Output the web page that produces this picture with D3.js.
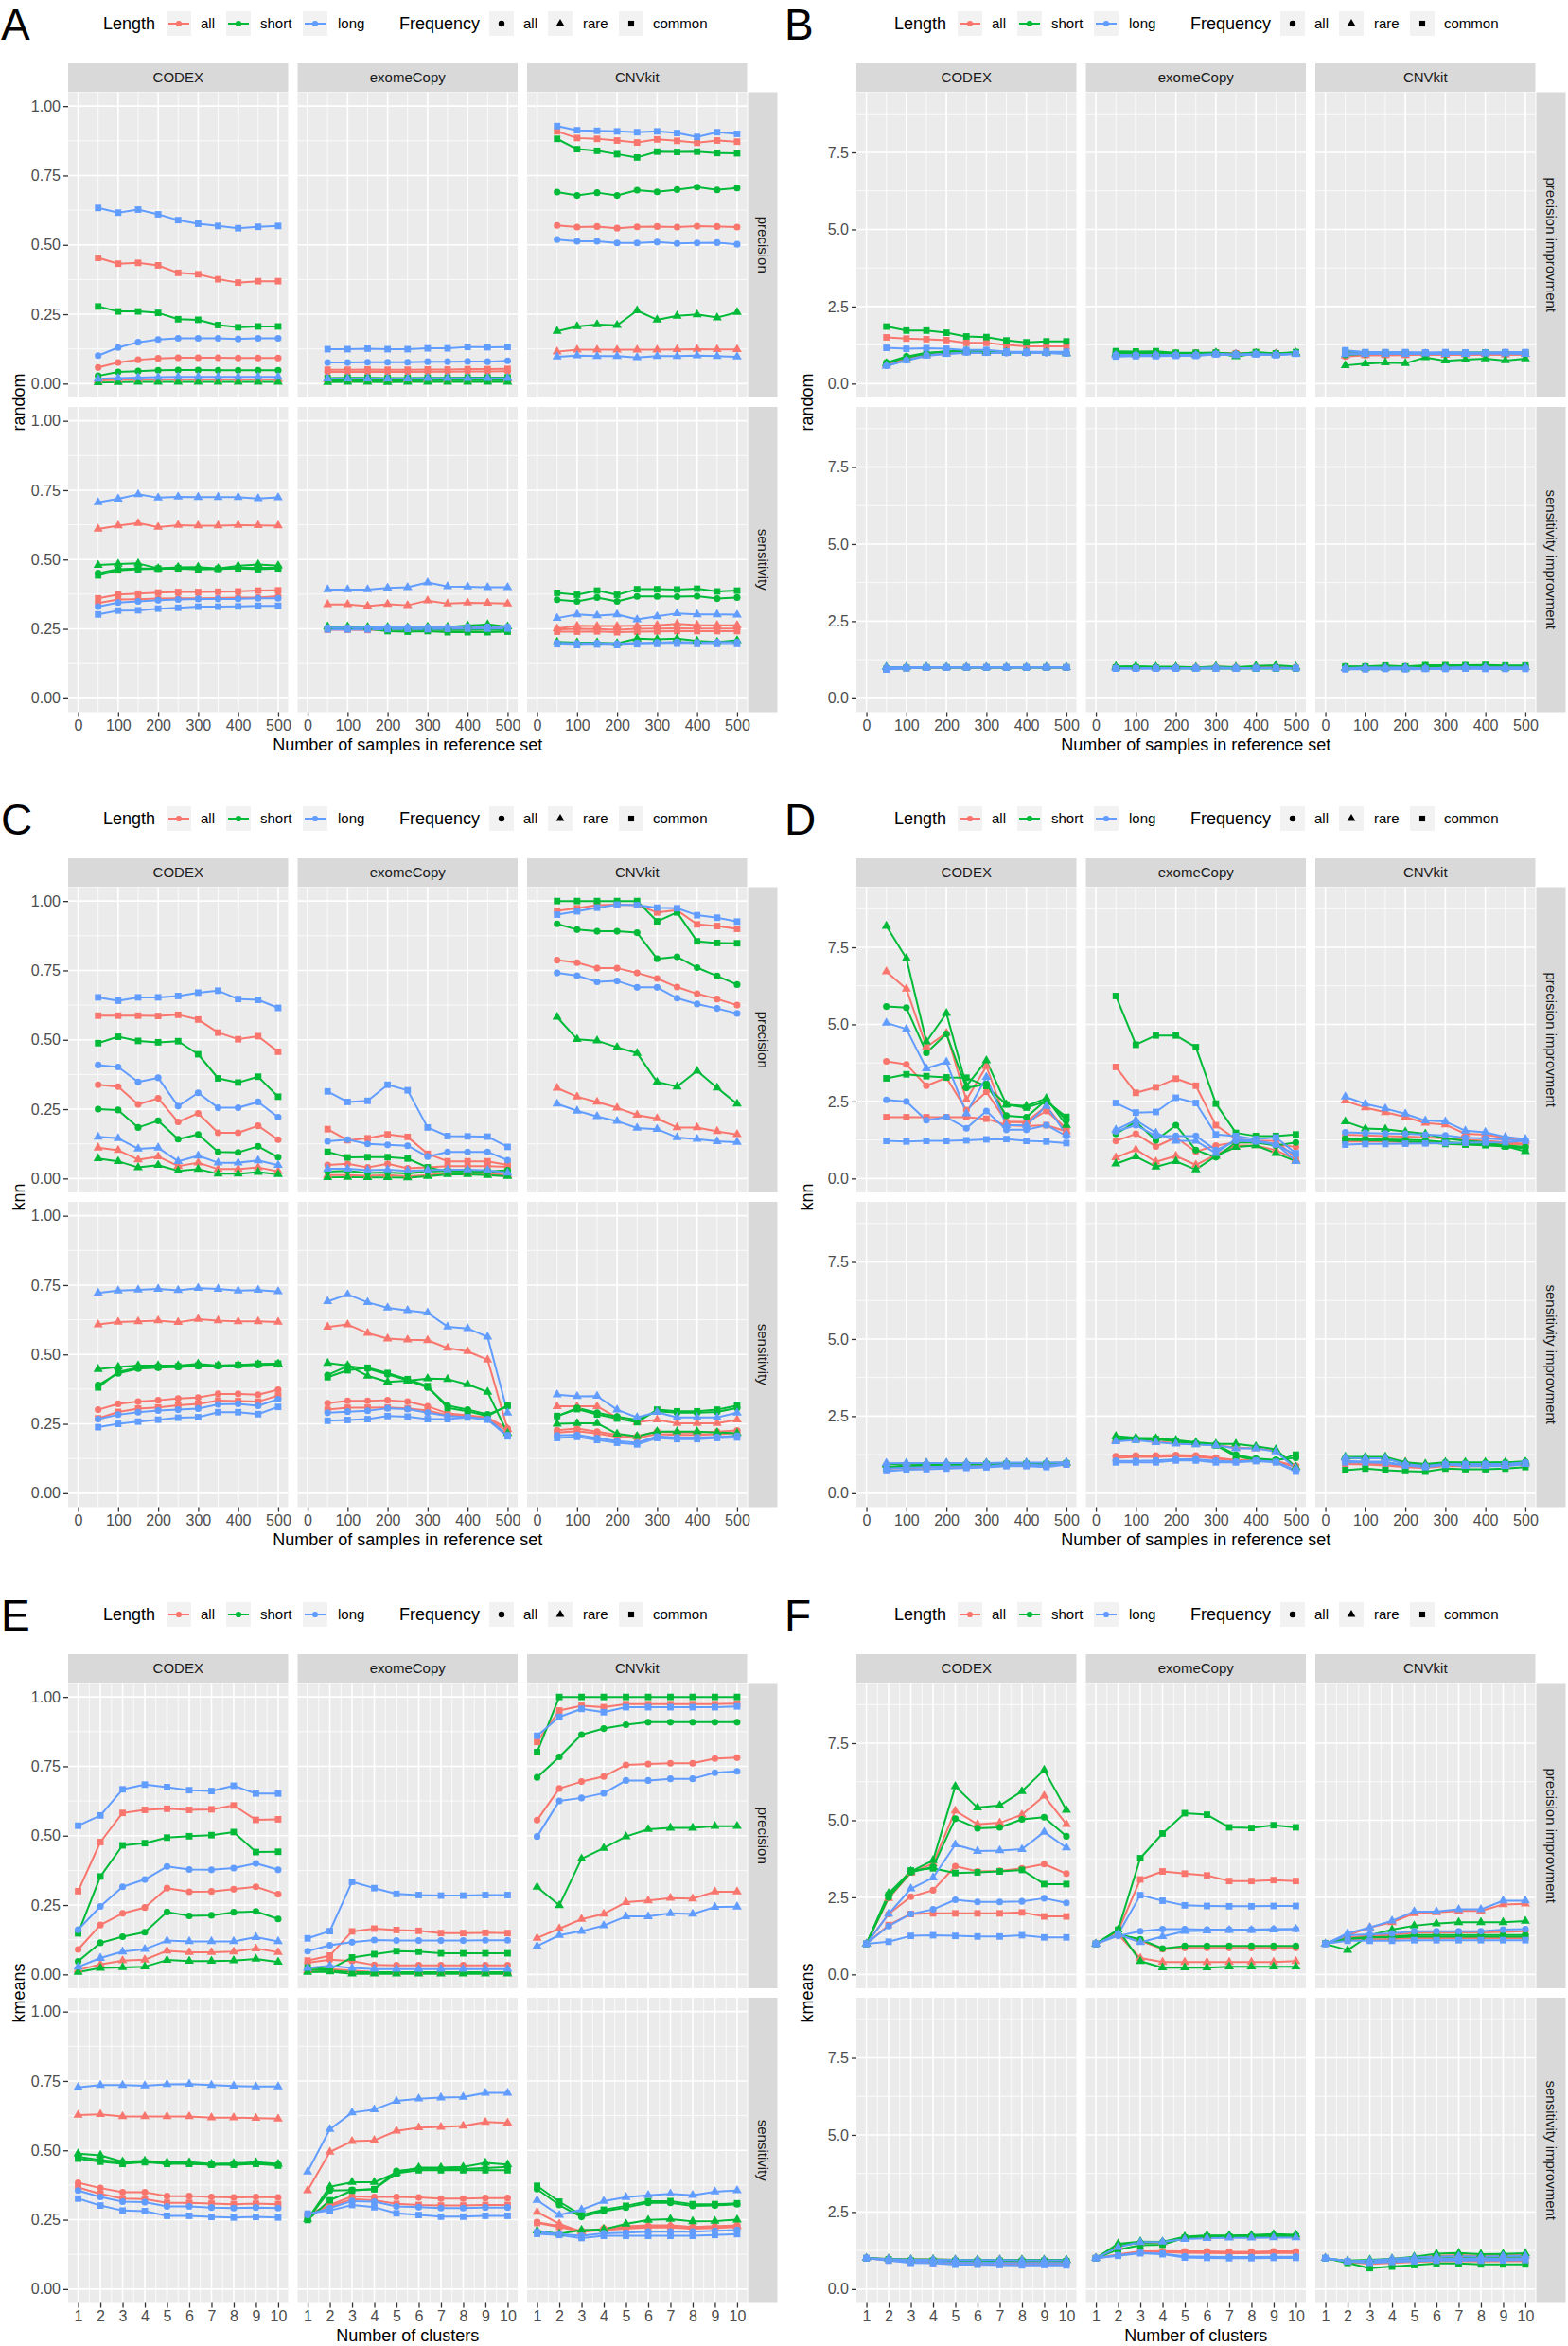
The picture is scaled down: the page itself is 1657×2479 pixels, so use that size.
<!DOCTYPE html>
<html><head><meta charset="utf-8">
<script src="https://cdn.jsdelivr.net/npm/d3@7"></script>
<style>body{margin:0;background:#fff}svg{display:block}</style>
</head><body><svg id="c" width="1657" height="2479"></svg>
<script>
// ---------- categories / ticks ----------
const methods = ["CODEX","exomeCopy","CNVkit"];
const lengthLevels = ["all","short","long"];
const freqLevels = ["all","rare","common"];
const xSamples = [50,100,150,200,250,300,350,400,450,500];
const xClusters = [1,2,3,4,5,6,7,8,9,10];
const xTicksSamples = [0,100,200,300,400,500];
const xTicksClusters = [1,2,3,4,5,6,7,8,9,10];
const yTicksFraction = [0,0.25,0.5,0.75,1];
const yLabelsFraction = ["0.00","0.25","0.50","0.75","1.00"];
const yTicksImprovement = [0,2.5,5,7.5];
const yLabelsImprovement = ["0.0","2.5","5.0","7.5"];
const rowsFraction = ["precision","sensitivity"];
const rowsImprovement = ["precision improvment","sensitivity improvment"];
const xTitleSamples = "Number of samples in reference set";
const xTitleClusters = "Number of clusters";
// series order in every facet array:
// Length all: freq all, rare, common | Length short: all, rare, common | Length long: all, rare, common

// ---------- A : random, fraction ----------
const A_precision_CODEX = [
[0.058,0.076,0.086,0.091,0.093,0.093,0.093,0.092,0.092,0.092],
[0.011,0.013,0.014,0.015,0.015,0.015,0.015,0.015,0.015,0.015],
[0.453,0.432,0.435,0.426,0.399,0.394,0.376,0.364,0.369,0.369],
[0.028,0.042,0.045,0.048,0.049,0.049,0.048,0.048,0.048,0.048],
[0.004,0.005,0.006,0.006,0.006,0.006,0.006,0.006,0.006,0.006],
[0.278,0.260,0.260,0.255,0.232,0.230,0.211,0.203,0.206,0.206],
[0.101,0.130,0.149,0.159,0.163,0.163,0.163,0.161,0.163,0.163],
[0.017,0.020,0.022,0.023,0.024,0.024,0.024,0.024,0.024,0.024],
[0.633,0.616,0.627,0.610,0.589,0.576,0.568,0.560,0.565,0.568]];
const A_precision_exomeCopy = [
[0.042,0.042,0.042,0.042,0.042,0.043,0.043,0.044,0.044,0.045],
[0.015,0.015,0.015,0.015,0.015,0.015,0.015,0.016,0.016,0.016],
[0.050,0.050,0.051,0.050,0.050,0.051,0.051,0.052,0.052,0.053],
[0.011,0.011,0.011,0.011,0.011,0.012,0.012,0.012,0.012,0.012],
[0.005,0.006,0.006,0.005,0.006,0.006,0.006,0.006,0.006,0.006],
[0.020,0.021,0.021,0.020,0.020,0.021,0.021,0.022,0.022,0.022],
[0.076,0.076,0.077,0.077,0.077,0.079,0.079,0.080,0.079,0.082],
[0.018,0.018,0.018,0.018,0.018,0.019,0.019,0.019,0.019,0.019],
[0.124,0.124,0.126,0.124,0.124,0.127,0.127,0.132,0.131,0.132]];
const A_precision_CNVkit = [
[0.570,0.564,0.566,0.560,0.565,0.566,0.564,0.567,0.566,0.564],
[0.115,0.122,0.122,0.122,0.122,0.122,0.123,0.124,0.123,0.123],
[0.909,0.885,0.882,0.876,0.869,0.880,0.875,0.868,0.876,0.872],
[0.690,0.678,0.688,0.678,0.697,0.691,0.699,0.708,0.698,0.705],
[0.189,0.206,0.213,0.210,0.263,0.230,0.244,0.249,0.238,0.257],
[0.882,0.845,0.839,0.827,0.815,0.836,0.835,0.836,0.831,0.830],
[0.519,0.513,0.513,0.507,0.507,0.510,0.505,0.507,0.508,0.502],
[0.097,0.101,0.099,0.099,0.094,0.099,0.099,0.101,0.099,0.097],
[0.928,0.913,0.911,0.909,0.906,0.909,0.903,0.889,0.906,0.900]];
const A_sensitivity_CODEX = [
[0.343,0.356,0.357,0.359,0.360,0.360,0.361,0.363,0.363,0.368],
[0.610,0.622,0.631,0.617,0.624,0.622,0.622,0.624,0.623,0.622],
[0.360,0.374,0.377,0.381,0.383,0.383,0.384,0.385,0.388,0.389],
[0.451,0.465,0.468,0.468,0.470,0.467,0.468,0.470,0.470,0.470],
[0.480,0.484,0.486,0.468,0.472,0.473,0.468,0.477,0.482,0.478],
[0.443,0.461,0.465,0.467,0.468,0.464,0.466,0.468,0.465,0.468],
[0.330,0.345,0.349,0.353,0.356,0.358,0.358,0.358,0.360,0.360],
[0.706,0.719,0.735,0.723,0.726,0.725,0.725,0.725,0.720,0.724],
[0.302,0.316,0.317,0.323,0.326,0.330,0.330,0.331,0.333,0.333]];
const A_sensitivity_exomeCopy = [
[0.250,0.250,0.250,0.251,0.252,0.251,0.251,0.252,0.252,0.252],
[0.338,0.338,0.332,0.339,0.335,0.352,0.341,0.344,0.343,0.341],
[0.247,0.247,0.246,0.247,0.248,0.247,0.247,0.248,0.248,0.249],
[0.252,0.252,0.252,0.248,0.247,0.248,0.246,0.246,0.247,0.245],
[0.258,0.258,0.256,0.256,0.255,0.257,0.257,0.262,0.266,0.258],
[0.250,0.251,0.250,0.242,0.240,0.242,0.238,0.238,0.238,0.240],
[0.254,0.254,0.254,0.256,0.256,0.256,0.256,0.258,0.258,0.258],
[0.392,0.392,0.392,0.398,0.400,0.417,0.403,0.402,0.400,0.400],
[0.248,0.248,0.248,0.249,0.250,0.249,0.250,0.251,0.251,0.251]];
const A_sensitivity_CNVkit = [
[0.248,0.250,0.249,0.247,0.250,0.251,0.252,0.251,0.251,0.251],
[0.251,0.261,0.260,0.260,0.261,0.263,0.268,0.264,0.263,0.263],
[0.240,0.240,0.241,0.238,0.240,0.241,0.242,0.242,0.242,0.242],
[0.355,0.349,0.363,0.349,0.367,0.367,0.366,0.368,0.359,0.363],
[0.203,0.201,0.201,0.198,0.215,0.213,0.215,0.207,0.203,0.209],
[0.380,0.373,0.388,0.373,0.393,0.393,0.392,0.395,0.385,0.388],
[0.200,0.198,0.199,0.197,0.200,0.201,0.203,0.201,0.202,0.202],
[0.289,0.302,0.298,0.302,0.284,0.295,0.306,0.302,0.302,0.301],
[0.195,0.192,0.194,0.192,0.195,0.196,0.197,0.196,0.196,0.196]];

// ---------- B : random, improvement ----------
const B_precision_CODEX = [
[0.62,0.80,0.95,1.00,1.02,1.01,1.00,1.00,1.00,0.99],
[0.60,0.78,0.93,0.99,1.02,1.01,1.00,1.00,1.00,0.99],
[1.50,1.46,1.44,1.41,1.32,1.32,1.25,1.21,1.21,1.21],
[0.68,0.88,1.00,1.04,1.05,1.03,1.02,1.01,1.00,0.99],
[0.66,0.85,0.98,1.05,1.06,1.04,1.02,1.02,1.01,0.98],
[1.85,1.72,1.72,1.65,1.53,1.51,1.40,1.34,1.37,1.37],
[0.58,0.76,0.92,0.97,1.01,1.00,0.99,0.99,0.99,0.98],
[0.57,0.75,0.90,0.96,1.00,0.99,0.99,0.99,0.99,0.97],
[1.16,1.13,1.15,1.13,1.09,1.09,1.04,1.03,1.03,1.03]];
const B_precision_exomeCopy = [
[0.97,0.98,0.98,0.97,0.98,0.99,0.98,0.99,0.98,0.99],
[0.95,0.96,0.96,0.95,0.96,0.98,0.96,0.98,0.97,0.98],
[1.00,1.00,1.00,0.98,0.99,1.00,0.98,1.00,0.98,1.00],
[1.00,1.00,1.00,0.98,0.99,1.00,0.97,1.00,0.97,1.00],
[0.98,0.98,0.97,0.96,0.94,1.00,0.88,0.98,0.95,1.00],
[1.05,1.04,1.05,1.00,1.00,1.00,0.95,1.02,0.98,1.02],
[0.93,0.93,0.93,0.93,0.93,0.96,0.95,0.96,0.94,0.97],
[0.92,0.92,0.92,0.92,0.92,0.95,0.94,0.95,0.93,0.96],
[0.88,0.89,0.89,0.90,0.90,0.95,0.93,0.95,0.92,0.97]];
const B_precision_CNVkit = [
[0.88,0.92,0.92,0.93,0.95,0.94,0.94,0.95,0.94,0.94],
[0.90,0.92,0.92,0.92,0.95,0.93,0.94,0.95,0.94,0.95],
[1.02,1.00,1.00,1.00,0.99,1.00,1.00,0.99,1.00,1.00],
[0.93,0.96,0.97,0.97,0.99,0.98,0.99,1.00,0.99,1.00],
[0.59,0.65,0.68,0.66,0.85,0.74,0.78,0.81,0.75,0.81],
[1.05,1.00,1.00,1.00,0.98,1.01,1.01,1.01,1.00,1.00],
[0.98,0.99,0.99,0.99,1.00,0.99,0.99,1.00,1.00,0.99],
[0.95,0.96,0.96,0.96,0.97,0.96,0.96,0.97,0.97,0.96],
[1.08,1.02,1.02,1.02,1.01,1.02,1.01,1.00,1.02,1.02]];
const B_sensitivity_CODEX = [
[0.97,0.99,1.00,1.00,1.00,1.00,1.00,1.00,1.00,1.00],
[1.00,1.00,1.00,1.00,1.00,1.00,1.00,1.00,1.00,1.00],
[0.94,0.98,0.99,0.99,1.00,1.00,1.00,1.00,1.00,1.00],
[0.96,0.99,1.00,1.00,1.00,1.00,1.00,1.00,1.00,1.00],
[1.01,1.01,1.01,1.00,1.00,1.00,1.00,1.00,1.01,1.00],
[0.95,0.98,1.00,1.00,1.00,1.00,1.00,1.00,1.00,1.00],
[0.96,0.99,1.00,1.00,1.00,1.00,1.00,1.00,1.00,1.00],
[1.00,1.01,1.01,1.00,1.00,1.00,1.00,1.00,1.00,1.00],
[0.93,0.97,0.99,0.99,1.00,1.00,1.00,1.00,1.00,1.00]];
const B_sensitivity_exomeCopy = [
[0.99,0.99,0.98,0.99,0.99,0.99,0.99,0.99,0.99,0.99],
[1.00,1.00,0.99,1.00,0.99,1.02,1.00,1.01,1.01,1.00],
[0.98,0.98,0.98,0.98,0.98,0.98,0.98,0.98,0.98,0.98],
[1.00,1.00,1.00,0.99,0.98,0.99,0.98,0.98,0.99,0.98],
[1.03,1.04,1.02,1.02,1.00,1.03,1.01,1.05,1.07,1.02],
[0.99,1.00,0.99,0.97,0.96,0.97,0.96,0.96,0.96,0.96],
[0.97,0.97,0.97,0.98,0.98,0.98,0.98,0.98,0.99,0.98],
[0.97,0.97,0.97,0.98,0.98,1.00,0.98,0.98,0.98,0.98],
[0.96,0.96,0.96,0.96,0.96,0.96,0.96,0.97,0.97,0.97]];
const B_sensitivity_CNVkit = [
[0.98,0.99,0.98,0.98,0.99,1.00,1.00,1.00,1.00,1.00],
[0.98,1.00,1.00,1.00,1.00,1.00,1.02,1.01,1.00,1.00],
[0.96,0.97,0.97,0.96,0.97,0.97,0.97,0.98,0.98,0.98],
[1.02,1.02,1.05,1.02,1.05,1.05,1.05,1.06,1.04,1.05],
[0.98,0.97,0.98,0.96,1.02,1.01,1.02,1.00,0.98,1.00],
[1.03,1.03,1.06,1.03,1.07,1.07,1.07,1.08,1.06,1.06],
[0.95,0.95,0.96,0.95,0.96,0.96,0.97,0.96,0.97,0.97],
[0.97,1.00,0.99,1.00,0.96,0.99,1.01,1.00,1.00,1.00],
[0.94,0.94,0.95,0.94,0.95,0.95,0.96,0.95,0.95,0.95]];

// ---------- C : knn, fraction ----------
const C_precision_CODEX = [
[0.338,0.331,0.267,0.289,0.204,0.235,0.165,0.165,0.190,0.140],
[0.111,0.102,0.068,0.079,0.045,0.057,0.034,0.034,0.040,0.026],
[0.587,0.587,0.587,0.586,0.590,0.573,0.526,0.502,0.513,0.457],
[0.250,0.247,0.184,0.208,0.142,0.159,0.096,0.094,0.116,0.077],
[0.072,0.062,0.040,0.048,0.028,0.034,0.017,0.017,0.023,0.015],
[0.488,0.511,0.496,0.491,0.495,0.448,0.361,0.346,0.367,0.295],
[0.409,0.402,0.348,0.363,0.261,0.309,0.255,0.255,0.276,0.221],
[0.150,0.145,0.107,0.111,0.062,0.082,0.057,0.057,0.065,0.048],
[0.653,0.641,0.653,0.653,0.658,0.670,0.677,0.647,0.644,0.615]];
const C_precision_exomeCopy = [
[0.049,0.053,0.040,0.053,0.037,0.040,0.045,0.045,0.045,0.042],
[0.012,0.012,0.010,0.012,0.008,0.012,0.020,0.020,0.018,0.012],
[0.178,0.138,0.145,0.159,0.150,0.089,0.062,0.062,0.062,0.049],
[0.025,0.028,0.020,0.022,0.018,0.025,0.028,0.028,0.025,0.030],
[0.004,0.005,0.004,0.004,0.003,0.008,0.015,0.015,0.012,0.008],
[0.096,0.076,0.077,0.077,0.072,0.040,0.026,0.026,0.025,0.020],
[0.134,0.140,0.125,0.121,0.118,0.079,0.096,0.096,0.096,0.066],
[0.035,0.035,0.030,0.032,0.028,0.030,0.032,0.032,0.030,0.020],
[0.314,0.276,0.280,0.338,0.318,0.184,0.153,0.152,0.151,0.114]];
const C_precision_CNVkit = [
[0.787,0.778,0.758,0.758,0.741,0.721,0.690,0.666,0.647,0.625],
[0.326,0.295,0.276,0.255,0.229,0.216,0.184,0.184,0.170,0.159],
[0.965,0.974,0.985,0.987,0.985,0.959,0.967,0.916,0.910,0.900],
[0.918,0.897,0.891,0.891,0.886,0.792,0.799,0.760,0.730,0.699],
[0.582,0.502,0.497,0.473,0.452,0.348,0.331,0.388,0.327,0.269],
[1.000,1.000,1.000,1.000,1.000,0.927,0.959,0.855,0.849,0.848],
[0.741,0.731,0.709,0.712,0.689,0.689,0.650,0.629,0.613,0.595],
[0.269,0.244,0.224,0.207,0.182,0.178,0.148,0.142,0.134,0.131],
[0.951,0.963,0.976,0.987,0.985,0.976,0.974,0.949,0.940,0.926]];
const C_sensitivity_CODEX = [
[0.301,0.322,0.330,0.335,0.341,0.345,0.358,0.358,0.355,0.373],
[0.608,0.617,0.619,0.622,0.616,0.627,0.622,0.619,0.619,0.617],
[0.270,0.293,0.305,0.309,0.317,0.322,0.334,0.332,0.330,0.352],
[0.390,0.432,0.449,0.452,0.455,0.458,0.458,0.460,0.462,0.464],
[0.447,0.455,0.460,0.460,0.460,0.466,0.460,0.462,0.464,0.466],
[0.381,0.437,0.452,0.455,0.457,0.460,0.460,0.462,0.466,0.467],
[0.267,0.283,0.292,0.298,0.301,0.305,0.320,0.322,0.315,0.339],
[0.722,0.730,0.733,0.736,0.731,0.739,0.736,0.730,0.732,0.727],
[0.238,0.250,0.258,0.265,0.272,0.274,0.292,0.292,0.285,0.311]];
const C_sensitivity_exomeCopy = [
[0.324,0.333,0.333,0.335,0.330,0.313,0.288,0.281,0.273,0.233],
[0.599,0.608,0.577,0.557,0.553,0.551,0.523,0.511,0.481,0.231],
[0.301,0.308,0.308,0.309,0.306,0.298,0.281,0.278,0.269,0.222],
[0.426,0.458,0.449,0.428,0.407,0.381,0.316,0.301,0.284,0.313],
[0.469,0.460,0.423,0.401,0.405,0.413,0.411,0.392,0.365,0.216],
[0.418,0.443,0.452,0.433,0.411,0.386,0.307,0.295,0.278,0.316],
[0.290,0.294,0.297,0.306,0.303,0.290,0.278,0.274,0.267,0.210],
[0.691,0.716,0.688,0.668,0.659,0.650,0.600,0.594,0.563,0.290],
[0.261,0.264,0.267,0.278,0.276,0.267,0.267,0.273,0.265,0.205]];
const C_sensitivity_CNVkit = [
[0.227,0.233,0.222,0.210,0.205,0.222,0.219,0.219,0.222,0.226],
[0.313,0.313,0.313,0.273,0.256,0.265,0.252,0.252,0.252,0.265],
[0.219,0.224,0.215,0.203,0.199,0.213,0.210,0.210,0.213,0.217],
[0.278,0.307,0.290,0.276,0.265,0.295,0.290,0.290,0.293,0.307],
[0.250,0.252,0.252,0.214,0.205,0.222,0.222,0.222,0.219,0.216],
[0.278,0.303,0.284,0.269,0.256,0.301,0.295,0.295,0.301,0.316],
[0.208,0.210,0.199,0.188,0.182,0.205,0.201,0.201,0.203,0.207],
[0.355,0.349,0.350,0.301,0.273,0.292,0.273,0.273,0.273,0.290],
[0.199,0.203,0.192,0.182,0.176,0.199,0.195,0.195,0.199,0.201]];

// ---------- D : knn, improvement ----------
const D_precision_CODEX = [
[3.80,3.70,3.01,3.27,2.22,2.81,1.84,1.82,2.19,1.63],
[6.71,6.15,4.27,4.72,2.55,3.64,1.84,1.84,2.35,1.53],
[1.99,1.99,1.99,1.99,1.99,1.94,1.73,1.70,1.73,1.53],
[5.58,5.54,4.08,4.69,2.94,3.06,2.04,1.99,2.55,1.89],
[8.19,7.14,4.44,5.36,3.00,3.83,2.40,2.35,2.60,1.73],
[3.25,3.38,3.32,3.28,3.27,3.00,2.40,2.30,2.50,2.00],
[2.55,2.50,1.89,1.99,1.63,2.19,1.58,1.58,1.73,1.38],
[5.05,4.85,3.57,3.78,2.11,3.29,1.73,1.73,2.35,1.43],
[1.22,1.20,1.22,1.22,1.24,1.27,1.28,1.22,1.20,1.15]];
const D_precision_exomeCopy = [
[1.22,1.45,1.04,1.33,0.87,1.07,1.17,1.17,1.12,1.02],
[0.68,0.94,0.54,0.73,0.44,0.77,1.07,1.07,0.92,0.61],
[3.62,2.78,2.96,3.24,3.01,1.73,1.28,1.22,1.22,0.66],
[1.45,1.84,1.24,1.73,0.92,0.69,1.17,1.17,1.07,1.17],
[0.48,0.71,0.38,0.56,0.29,0.73,1.02,1.07,0.82,0.56],
[5.92,4.34,4.64,4.64,4.26,2.43,1.48,1.38,1.38,1.43],
[1.53,1.73,1.38,1.38,1.38,0.92,1.22,1.20,1.10,0.77],
[1.58,1.89,1.48,1.22,1.22,0.82,1.28,1.22,1.12,0.56],
[2.45,2.14,2.16,2.62,2.45,1.43,1.38,1.28,1.33,0.82]];
const D_precision_CNVkit = [
[1.42,1.40,1.38,1.36,1.34,1.30,1.25,1.22,1.18,1.12],
[2.52,2.30,2.15,2.00,1.80,1.75,1.45,1.42,1.32,1.22],
[1.20,1.20,1.20,1.18,1.18,1.15,1.14,1.13,1.12,1.10],
[1.30,1.28,1.27,1.25,1.24,1.18,1.15,1.12,1.08,1.02],
[1.85,1.62,1.60,1.52,1.45,1.30,1.22,1.18,1.05,0.88],
[1.25,1.24,1.23,1.20,1.18,1.12,1.10,1.08,1.04,0.98],
[1.50,1.48,1.46,1.45,1.42,1.40,1.32,1.30,1.26,1.22],
[2.65,2.42,2.27,2.10,1.88,1.85,1.55,1.50,1.35,1.28],
[1.10,1.12,1.12,1.13,1.14,1.15,1.16,1.17,1.18,1.22]];
const D_sensitivity_CODEX = [
[0.85,0.87,0.88,0.88,0.89,0.90,0.93,0.93,0.92,0.96],
[0.95,0.96,0.97,0.97,0.97,0.97,0.98,0.98,0.98,0.99],
[0.80,0.82,0.84,0.85,0.86,0.88,0.91,0.91,0.90,0.95],
[0.85,0.90,0.92,0.93,0.94,0.95,0.96,0.96,0.96,0.98],
[0.93,0.96,0.97,0.97,0.97,0.98,0.98,0.98,0.98,0.99],
[0.80,0.86,0.90,0.91,0.92,0.94,0.95,0.95,0.95,0.97],
[0.80,0.83,0.85,0.86,0.87,0.88,0.92,0.92,0.90,0.96],
[0.97,0.98,0.98,0.98,0.98,0.98,0.99,0.99,0.99,1.00],
[0.72,0.76,0.78,0.80,0.82,0.84,0.88,0.88,0.85,0.93]];
const D_sensitivity_exomeCopy = [
[1.20,1.22,1.22,1.24,1.22,1.15,1.08,1.08,1.05,0.88],
[1.72,1.75,1.68,1.62,1.60,1.56,1.48,1.45,1.38,0.85],
[1.15,1.18,1.18,1.20,1.18,1.12,1.05,1.06,1.02,0.85],
[1.75,1.76,1.75,1.70,1.62,1.58,1.25,1.12,1.08,1.15],
[1.85,1.80,1.78,1.72,1.65,1.60,1.60,1.52,1.42,0.85],
[1.70,1.74,1.76,1.68,1.60,1.55,1.20,1.08,1.05,1.25],
[1.05,1.05,1.06,1.10,1.10,1.05,1.02,1.06,1.02,0.75],
[1.68,1.72,1.65,1.60,1.58,1.55,1.45,1.45,1.35,0.80],
[1.00,1.00,1.00,1.06,1.06,1.00,1.00,1.04,1.00,0.70]];
const D_sensitivity_CNVkit = [
[1.00,0.98,0.95,0.88,0.85,0.92,0.92,0.92,0.93,0.95],
[1.15,1.15,1.15,1.00,0.93,0.98,0.92,0.92,0.92,0.98],
[0.95,0.93,0.90,0.85,0.82,0.88,0.88,0.88,0.90,0.92],
[1.12,1.15,1.12,0.97,0.88,1.00,0.98,0.98,1.00,1.02],
[1.18,1.18,1.18,1.00,0.95,1.00,1.00,1.00,1.00,1.02],
[0.75,0.80,0.75,0.72,0.70,0.80,0.78,0.78,0.80,0.85],
[1.05,1.02,1.02,0.92,0.87,0.95,0.95,0.95,0.95,1.00],
[1.15,1.13,1.13,0.95,0.88,0.94,0.88,0.88,0.88,0.94],
[1.00,1.00,0.98,0.90,0.85,0.92,0.92,0.92,0.93,0.96]];

// ---------- E : kmeans, fraction ----------
const E_precision_CODEX = [
[0.090,0.178,0.220,0.241,0.311,0.298,0.299,0.307,0.316,0.289],
[0.016,0.036,0.050,0.053,0.085,0.080,0.080,0.082,0.093,0.080],
[0.300,0.477,0.582,0.593,0.597,0.593,0.595,0.609,0.557,0.559],
[0.047,0.114,0.136,0.152,0.225,0.211,0.213,0.224,0.227,0.200],
[0.008,0.023,0.025,0.028,0.052,0.048,0.048,0.050,0.056,0.045],
[0.148,0.353,0.465,0.473,0.493,0.498,0.502,0.513,0.441,0.442],
[0.161,0.245,0.316,0.342,0.389,0.378,0.377,0.383,0.400,0.377],
[0.027,0.059,0.082,0.091,0.122,0.119,0.119,0.119,0.134,0.119],
[0.536,0.573,0.667,0.684,0.675,0.664,0.661,0.680,0.652,0.652]];
const E_precision_exomeCopy = [
[0.042,0.053,0.048,0.034,0.033,0.033,0.033,0.033,0.033,0.033],
[0.014,0.019,0.014,0.008,0.008,0.008,0.008,0.008,0.008,0.008],
[0.050,0.068,0.155,0.165,0.160,0.157,0.149,0.149,0.150,0.149],
[0.017,0.014,0.008,0.008,0.008,0.008,0.008,0.008,0.008,0.008],
[0.008,0.010,0.002,0.002,0.002,0.002,0.002,0.002,0.002,0.002],
[0.025,0.019,0.061,0.073,0.084,0.082,0.076,0.076,0.076,0.076],
[0.084,0.105,0.116,0.124,0.122,0.122,0.122,0.122,0.123,0.123],
[0.023,0.031,0.023,0.019,0.019,0.019,0.019,0.019,0.019,0.019],
[0.130,0.156,0.334,0.311,0.290,0.286,0.284,0.284,0.286,0.286]];
const E_precision_CNVkit = [
[0.556,0.670,0.695,0.713,0.755,0.758,0.761,0.761,0.778,0.781],
[0.131,0.165,0.199,0.218,0.260,0.266,0.275,0.273,0.298,0.298],
[0.838,0.951,0.968,0.963,0.974,0.974,0.974,0.974,0.974,0.976],
[0.710,0.784,0.864,0.886,0.900,0.909,0.909,0.909,0.909,0.909],
[0.315,0.249,0.417,0.455,0.497,0.523,0.528,0.528,0.534,0.534],
[0.801,1.000,1.000,1.000,1.000,1.000,1.000,1.000,1.000,1.000],
[0.497,0.625,0.636,0.653,0.699,0.699,0.705,0.705,0.727,0.732],
[0.102,0.141,0.156,0.176,0.209,0.209,0.220,0.218,0.243,0.244],
[0.860,0.928,0.957,0.945,0.963,0.963,0.963,0.963,0.963,0.966]];
const E_sensitivity_CODEX = [
[0.383,0.364,0.349,0.349,0.335,0.335,0.332,0.330,0.332,0.330],
[0.627,0.630,0.622,0.622,0.622,0.622,0.618,0.618,0.616,0.614],
[0.366,0.343,0.326,0.324,0.311,0.311,0.308,0.306,0.308,0.306],
[0.477,0.465,0.457,0.459,0.453,0.453,0.449,0.451,0.453,0.449],
[0.488,0.482,0.459,0.462,0.457,0.457,0.451,0.453,0.457,0.451],
[0.470,0.459,0.451,0.457,0.451,0.451,0.448,0.448,0.451,0.445],
[0.355,0.332,0.315,0.313,0.298,0.298,0.294,0.292,0.294,0.292],
[0.727,0.735,0.735,0.733,0.738,0.739,0.735,0.732,0.730,0.730],
[0.326,0.301,0.283,0.281,0.264,0.264,0.260,0.258,0.260,0.258]];
const E_sensitivity_exomeCopy = [
[0.269,0.303,0.334,0.332,0.332,0.330,0.326,0.326,0.328,0.328],
[0.355,0.494,0.533,0.536,0.570,0.582,0.584,0.588,0.602,0.599],
[0.267,0.298,0.324,0.320,0.307,0.303,0.301,0.301,0.303,0.303],
[0.252,0.355,0.357,0.360,0.426,0.434,0.433,0.433,0.436,0.440],
[0.252,0.369,0.385,0.385,0.419,0.438,0.438,0.440,0.455,0.449],
[0.249,0.320,0.355,0.360,0.417,0.428,0.428,0.428,0.428,0.428],
[0.267,0.292,0.317,0.315,0.298,0.295,0.292,0.292,0.294,0.294],
[0.423,0.576,0.636,0.647,0.678,0.686,0.690,0.692,0.707,0.707],
[0.272,0.283,0.303,0.295,0.273,0.267,0.261,0.261,0.264,0.264]];
const E_sensitivity_CNVkit = [
[0.241,0.227,0.207,0.218,0.222,0.227,0.227,0.224,0.226,0.230],
[0.278,0.235,0.207,0.216,0.226,0.230,0.230,0.224,0.226,0.227],
[0.238,0.224,0.207,0.213,0.218,0.222,0.222,0.218,0.220,0.224],
[0.360,0.303,0.260,0.281,0.294,0.311,0.311,0.300,0.301,0.306],
[0.210,0.199,0.213,0.215,0.235,0.249,0.252,0.244,0.245,0.250],
[0.372,0.315,0.267,0.286,0.300,0.317,0.317,0.306,0.306,0.309],
[0.207,0.198,0.192,0.201,0.203,0.207,0.207,0.207,0.210,0.213],
[0.320,0.267,0.286,0.317,0.331,0.338,0.343,0.338,0.351,0.355],
[0.199,0.195,0.184,0.192,0.192,0.192,0.192,0.192,0.195,0.198]];

// ---------- F : kmeans, improvement ----------
const F_precision_CODEX = [
[0.99,1.96,2.52,2.73,3.51,3.34,3.36,3.44,3.58,3.27],
[0.99,2.47,3.29,3.60,5.31,4.87,4.92,5.18,5.79,4.87],
[0.99,1.60,1.96,1.98,1.98,1.98,1.98,2.01,1.88,1.88],
[0.99,2.50,3.31,3.49,5.05,4.74,4.77,5.03,5.10,4.48],
[0.99,2.63,3.34,3.70,6.10,5.41,5.48,5.94,6.63,5.33],
[0.99,2.57,3.37,3.44,3.29,3.31,3.34,3.39,2.93,2.93],
[0.99,1.57,1.96,2.11,2.42,2.35,2.35,2.37,2.47,2.32],
[0.99,1.96,2.78,3.14,4.21,4.00,4.02,4.06,4.62,4.11],
[0.99,1.06,1.25,1.27,1.25,1.23,1.23,1.27,1.20,1.20]];
const F_precision_exomeCopy = [
[0.99,1.27,1.09,0.82,0.86,0.86,0.86,0.86,0.86,0.86],
[0.99,1.30,0.53,0.40,0.40,0.40,0.40,0.40,0.40,0.43],
[0.99,1.40,3.08,3.34,3.27,3.21,3.03,3.03,3.06,3.03],
[0.99,1.30,1.14,0.84,0.92,0.92,0.92,0.92,0.92,0.92],
[0.99,1.45,0.43,0.22,0.22,0.22,0.25,0.25,0.25,0.25],
[0.99,1.45,3.77,4.57,5.23,5.18,4.77,4.75,4.84,4.77],
[0.99,1.25,1.40,1.47,1.47,1.45,1.45,1.45,1.47,1.47],
[0.99,1.30,1.04,1.23,1.40,1.42,1.43,1.43,1.45,1.47],
[0.99,1.30,2.57,2.39,2.24,2.22,2.21,2.21,2.22,2.22]];
const F_precision_CNVkit = [
[1.00,1.20,1.25,1.28,1.35,1.35,1.36,1.36,1.38,1.40],
[0.99,1.27,1.52,1.69,1.98,2.01,2.06,2.06,2.27,2.29],
[1.00,1.12,1.14,1.15,1.18,1.18,1.18,1.18,1.18,1.18],
[1.00,1.15,1.20,1.22,1.28,1.28,1.28,1.28,1.28,1.28],
[0.99,0.79,1.27,1.45,1.58,1.65,1.69,1.69,1.69,1.73],
[1.00,1.17,1.20,1.20,1.22,1.22,1.22,1.22,1.22,1.22],
[0.99,1.27,1.30,1.33,1.40,1.40,1.40,1.40,1.45,1.47],
[0.99,1.33,1.52,1.74,2.04,2.04,2.11,2.11,2.39,2.39],
[0.99,1.09,1.09,1.09,1.11,1.11,1.11,1.11,1.11,1.11]];
const F_sensitivity_CODEX = [
[1.00,0.95,0.91,0.91,0.88,0.88,0.87,0.87,0.87,0.87],
[1.00,0.98,0.96,0.96,0.95,0.95,0.95,0.94,0.94,0.94],
[1.00,0.93,0.87,0.86,0.83,0.83,0.82,0.82,0.82,0.82],
[1.00,0.96,0.93,0.93,0.92,0.92,0.92,0.92,0.92,0.92],
[1.00,0.98,0.96,0.96,0.95,0.95,0.95,0.95,0.95,0.95],
[1.00,0.96,0.92,0.92,0.91,0.91,0.91,0.91,0.91,0.90],
[1.00,0.94,0.89,0.89,0.86,0.86,0.85,0.84,0.85,0.84],
[1.00,0.97,0.95,0.95,0.94,0.94,0.94,0.93,0.93,0.93],
[1.00,0.92,0.85,0.84,0.79,0.79,0.78,0.77,0.78,0.77]];
const F_sensitivity_exomeCopy = [
[1.00,1.12,1.22,1.23,1.22,1.22,1.21,1.21,1.22,1.22],
[1.00,1.40,1.50,1.51,1.64,1.68,1.68,1.68,1.70,1.70],
[1.00,1.10,1.20,1.20,1.18,1.17,1.16,1.16,1.17,1.17],
[1.00,1.41,1.50,1.52,1.67,1.72,1.72,1.72,1.74,1.74],
[1.00,1.47,1.54,1.53,1.70,1.74,1.74,1.75,1.78,1.76],
[1.00,1.28,1.42,1.44,1.67,1.70,1.70,1.70,1.70,1.70],
[1.00,1.10,1.18,1.15,1.06,1.05,1.04,1.04,1.05,1.05],
[1.00,1.36,1.52,1.53,1.62,1.65,1.66,1.66,1.67,1.67],
[1.00,1.08,1.16,1.13,1.02,1.01,1.00,1.00,1.01,1.01]];
const F_sensitivity_CNVkit = [
[1.00,0.88,0.85,0.92,0.95,1.00,1.00,0.99,1.00,1.00],
[1.00,0.90,0.92,0.98,1.02,1.08,1.10,1.08,1.10,1.11],
[1.00,0.88,0.82,0.85,0.88,0.90,0.90,0.89,0.90,0.90],
[1.00,0.88,0.88,0.95,0.98,1.05,1.05,1.04,1.05,1.05],
[1.00,0.92,0.95,0.98,1.05,1.15,1.17,1.13,1.14,1.16],
[1.00,0.85,0.68,0.73,0.78,0.83,0.83,0.80,0.80,0.80],
[1.00,0.90,0.88,0.93,0.95,0.98,0.98,0.98,0.98,0.99],
[1.00,0.90,0.92,0.98,1.02,1.05,1.07,1.05,1.07,1.08],
[1.00,0.90,0.85,0.88,0.90,0.92,0.92,0.92,0.93,0.94]];

// ---------- plot table built from the arrays ----------
const plots = [
 {label:"A", band:0, side:0, kind:"frac", x:"samples", yTitle:"random",
  facets:[[A_precision_CODEX,A_precision_exomeCopy,A_precision_CNVkit],[A_sensitivity_CODEX,A_sensitivity_exomeCopy,A_sensitivity_CNVkit]]},
 {label:"B", band:0, side:1, kind:"imp", x:"samples", yTitle:"random",
  facets:[[B_precision_CODEX,B_precision_exomeCopy,B_precision_CNVkit],[B_sensitivity_CODEX,B_sensitivity_exomeCopy,B_sensitivity_CNVkit]]},
 {label:"C", band:1, side:0, kind:"frac", x:"samples", yTitle:"knn",
  facets:[[C_precision_CODEX,C_precision_exomeCopy,C_precision_CNVkit],[C_sensitivity_CODEX,C_sensitivity_exomeCopy,C_sensitivity_CNVkit]]},
 {label:"D", band:1, side:1, kind:"imp", x:"samples", yTitle:"knn",
  facets:[[D_precision_CODEX,D_precision_exomeCopy,D_precision_CNVkit],[D_sensitivity_CODEX,D_sensitivity_exomeCopy,D_sensitivity_CNVkit]]},
 {label:"E", band:2, side:0, kind:"frac", x:"clusters", yTitle:"kmeans",
  facets:[[E_precision_CODEX,E_precision_exomeCopy,E_precision_CNVkit],[E_sensitivity_CODEX,E_sensitivity_exomeCopy,E_sensitivity_CNVkit]]},
 {label:"F", band:2, side:1, kind:"imp", x:"clusters", yTitle:"kmeans",
  facets:[[F_precision_CODEX,F_precision_exomeCopy,F_precision_CNVkit],[F_sensitivity_CODEX,F_sensitivity_exomeCopy,F_sensitivity_CNVkit]]}
];

// ---------- styling / layout ----------
const FONT = "'Liberation Sans', Arial, Helvetica, sans-serif";
const lengthColors = ["#F8766D","#00BA38","#619CFF"];
const freqShapes = [d3.symbolCircle, d3.symbolTriangle, d3.symbolSquare];
const freqSizes = [40, 42, 47];
const bandY = [0, 840, 1681];
const sideX = [72, 905];
const legendDX = [0, 836];
const labelX = [1, 829];
const panelW = 232.5, panelGap = 10, stripW = 31;
const rowTop = [97.5, 430], rowH = 322.5;
const stripTop = 67, stripH = 30;

const svg = d3.select("#c").attr("font-family", FONT);
svg.append("rect").attr("width",1657).attr("height",2479).attr("fill","#fff");

function styleAxis(g, size){
  g.attr("font-family", FONT).attr("font-size", size);
  g.select(".domain").remove();
  g.selectAll(".tick line").attr("stroke","#333333").attr("stroke-width",1.3);
  g.selectAll(".tick text").attr("fill","#4D4D4D");
}

function drawLegend(p){
  const oy = bandY[p.band], dx = legendDX[p.side], cy = oy + 25;
  const L = svg.append("g");
  L.append("text").attr("x",dx+109).attr("y",cy).attr("dy","0.35em").attr("font-size",18).text("Length");
  const lk = [176,239,320], ll = [212,275,357];
  lengthLevels.forEach((lv,i)=>{
    const kx = dx+lk[i];
    L.append("rect").attr("x",kx).attr("y",cy-13).attr("width",26).attr("height",26).attr("fill","#F2F2F2");
    L.append("line").attr("x1",kx+2).attr("x2",kx+24).attr("y1",cy).attr("y2",cy)
      .attr("stroke",lengthColors[i]).attr("stroke-width",2);
    L.append("path").attr("d",d3.symbol().type(d3.symbolCircle).size(30)())
      .attr("transform",`translate(${kx+13},${cy})`).attr("fill",lengthColors[i]);
    L.append("text").attr("x",dx+ll[i]).attr("y",cy).attr("dy","0.35em").attr("font-size",15).text(lv);
  });
  L.append("text").attr("x",dx+422).attr("y",cy).attr("dy","0.35em").attr("font-size",18).text("Frequency");
  const fk = [517,579,654], fl = [553,616,690];
  freqLevels.forEach((fv,i)=>{
    const kx = dx+fk[i];
    L.append("rect").attr("x",kx).attr("y",cy-13).attr("width",26).attr("height",26).attr("fill","#F2F2F2");
    L.append("path").attr("d",d3.symbol().type(freqShapes[i]).size(freqSizes[i]*0.8)())
      .attr("transform",`translate(${kx+13},${cy})`).attr("fill","#000");
    L.append("text").attr("x",dx+fl[i]).attr("y",cy).attr("dy","0.35em").attr("font-size",15).text(fv);
  });
}

function drawPlot(p){
  const oy = bandY[p.band], ox = sideX[p.side];
  const g = svg.append("g");
  const isS = p.x === "samples";
  const xdom = isS ? [-25,525] : [0.55,10.45];
  const xTicks = isS ? xTicksSamples : xTicksClusters;
  const xMinor = isS ? [50,150,250,350,450] : [1.5,2.5,3.5,4.5,5.5,6.5,7.5,8.5,9.5];
  const xVals = isS ? xSamples : xClusters;
  const isF = p.kind === "frac";
  const ydom = isF ? [-0.05,1.05] : [-0.45,9.45];
  const yTicks = isF ? yTicksFraction : yTicksImprovement;
  const yLabels = isF ? yLabelsFraction : yLabelsImprovement;
  const yMinor = isF ? [0.125,0.375,0.625,0.875] : [1.25,3.75,6.25,8.75];
  const rowNames = isF ? rowsFraction : rowsImprovement;

  // panel label
  svg.append("text").attr("x",labelX[p.side]).attr("y",oy+42).attr("font-size",46).text(p.label);
  drawLegend(p);

  // top strips
  methods.forEach((m,j)=>{
    const x0 = ox + j*(panelW+panelGap);
    g.append("rect").attr("x",x0).attr("y",oy+stripTop).attr("width",panelW).attr("height",stripH).attr("fill","#D9D9D9");
    g.append("text").attr("x",x0+panelW/2).attr("y",oy+stripTop+stripH/2).attr("dy","0.35em")
      .attr("text-anchor","middle").attr("font-size",15).attr("fill","#1A1A1A").text(m);
  });
  const stripX = ox + 3*panelW + 2*panelGap + 1;

  for (let r=0;r<2;r++){
    const y0 = oy + rowTop[r];
    const y = d3.scaleLinear().domain(ydom).range([y0+rowH, y0]);
    // right strip
    g.append("rect").attr("x",stripX).attr("y",y0).attr("width",stripW).attr("height",rowH).attr("fill","#D9D9D9");
    g.append("text").attr("transform",`translate(${stripX+stripW/2},${y0+rowH/2}) rotate(90)`)
      .attr("text-anchor","middle").attr("dy","0.35em").attr("font-size",15).attr("fill","#1A1A1A").text(rowNames[r]);
    // y axis
    const ya = g.append("g").attr("transform",`translate(${ox},0)`)
      .call(d3.axisLeft(y).tickValues(yTicks).tickFormat((d,i)=>yLabels[i]).tickSize(5).tickPadding(3));
    styleAxis(ya, 16);

    methods.forEach((m,j)=>{
      const x0 = ox + j*(panelW+panelGap);
      const x = d3.scaleLinear().domain(xdom).range([x0, x0+panelW]);
      g.append("rect").attr("x",x0).attr("y",y0).attr("width",panelW).attr("height",rowH).attr("fill","#EBEBEB");
      const grid = g.append("g").attr("stroke","#FFFFFF");
      yMinor.forEach(v=>grid.append("line").attr("x1",x0).attr("x2",x0+panelW).attr("y1",y(v)).attr("y2",y(v)).attr("stroke-width",0.8));
      xMinor.forEach(v=>grid.append("line").attr("x1",x(v)).attr("x2",x(v)).attr("y1",y0).attr("y2",y0+rowH).attr("stroke-width",0.8));
      yTicks.forEach(v=>grid.append("line").attr("x1",x0).attr("x2",x0+panelW).attr("y1",y(v)).attr("y2",y(v)).attr("stroke-width",1.6));
      xTicks.forEach(v=>grid.append("line").attr("x1",x(v)).attr("x2",x(v)).attr("y1",y0).attr("y2",y0+rowH).attr("stroke-width",1.6));

      const series = p.facets[r][j];
      const line = d3.line().x((d,i)=>x(xVals[i])).y(d=>y(d));
      series.forEach((vals,k)=>{
        g.append("path").attr("d",line(vals)).attr("fill","none")
          .attr("stroke",lengthColors[Math.floor(k/3)]).attr("stroke-width",2).attr("stroke-linejoin","round");
      });
      series.forEach((vals,k)=>{
        const sym = d3.symbol().type(freqShapes[k%3]).size(freqSizes[k%3])();
        g.append("g").selectAll("path").data(vals).join("path").attr("d",sym)
          .attr("transform",(d,i)=>`translate(${x(xVals[i])},${y(d)})`)
          .attr("fill",lengthColors[Math.floor(k/3)]);
      });

      if (r===1){
        const xa = g.append("g").attr("transform",`translate(0,${y0+rowH})`)
          .call(d3.axisBottom(x).tickValues(xTicks).tickFormat(d=>String(d)).tickSize(5).tickPadding(3));
        styleAxis(xa, 16);
      }
    });
  }
  // axis titles
  const axisEnd = ox + 3*panelW + 2*panelGap;
  g.append("text").attr("x",(ox+axisEnd)/2).attr("y",oy+793).attr("text-anchor","middle")
    .attr("font-size",18).text(isS ? xTitleSamples : xTitleClusters);
  g.append("text").attr("transform",`translate(${ox-46},${oy+(rowTop[0]+rowTop[1]+rowH)/2}) rotate(-90)`)
    .attr("text-anchor","middle").attr("font-size",18).text(p.yTitle);
}

plots.forEach(drawPlot);
</script></body></html>
